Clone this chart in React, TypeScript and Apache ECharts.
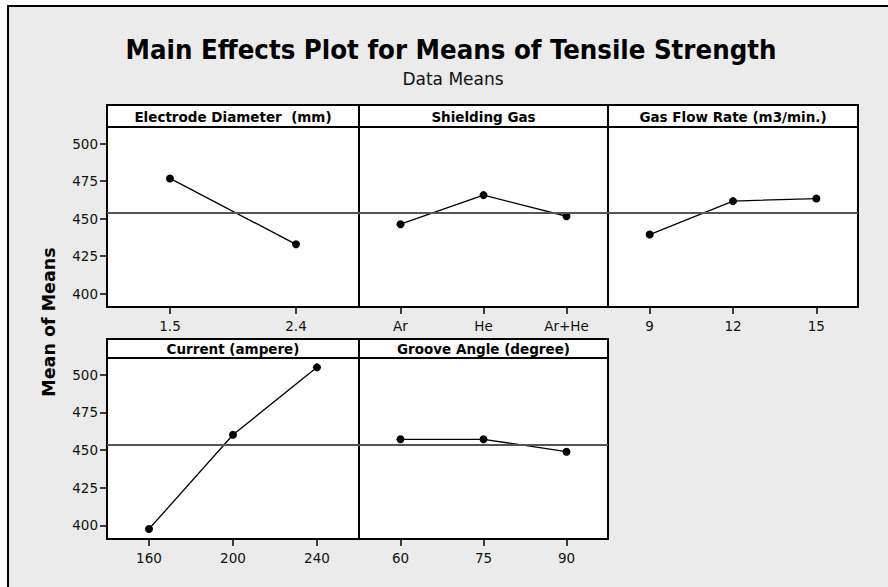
import React, { useEffect, useRef } from "react";
import * as echarts from "echarts";

const electrodeCats = ["1.5", "2.4"];
const electrodeMeans = [476.7, 432.8];
const gasCats = ["Ar", "He", "Ar+He"];
const gasMeans = [446.2, 465.6, 451.5];
const flowCats = ["9", "12", "15"];
const flowMeans = [439.3, 461.6, 463.3];
const currentCats = ["160", "200", "240"];
const currentMeans = [397.6, 460.1, 504.8];
const grooveCats = ["60", "75", "90"];
const grooveMeans = [457.1, 457.1, 448.9];
const grandMean = 453.8;
const yTicks = [400, 425, 450, 475, 500];
const panelTitles = [
  "Electrode Diameter  (mm)",
  "Shielding Gas",
  "Gas Flow Rate (m3/min.)",
  "Current (ampere)",
  "Groove Angle (degree)",
];

const COND = "'DejaVu Sans Condensed', 'DejaVu Sans', sans-serif";
const NORM = "'DejaVu Sans', sans-serif";

export default function App() {
  const ref = useRef<HTMLDivElement>(null);
  useEffect(() => {
    if (!ref.current) return;
    const chart = echarts.init(ref.current, null, { renderer: "svg" });
    const panels = [
      { left: 107, top: 127, width: 252, height: 180, hTop: 105, cats: electrodeCats, vals: electrodeMeans, yShow: true },
      { left: 359, top: 127, width: 249, height: 180, hTop: 105, cats: gasCats, vals: gasMeans, yShow: false },
      { left: 608, top: 127, width: 250, height: 180, hTop: 105, cats: flowCats, vals: flowMeans, yShow: false },
      { left: 107, top: 358, width: 252, height: 181, hTop: 339, cats: currentCats, vals: currentMeans, yShow: true },
      { left: 359, top: 358, width: 249, height: 181, hTop: 339, cats: grooveCats, vals: grooveMeans, yShow: false },
    ];
    const grid = panels.map((p) => ({
      left: p.left,
      top: p.top,
      width: p.width,
      height: p.height,
      show: true,
      backgroundColor: "#fff",
      borderColor: "#000",
      borderWidth: 2,
      containLabel: false,
    }));
    const xAxis = panels.map((p, i) => ({
      type: "category",
      gridIndex: i,
      data: p.cats,
      boundaryGap: true,
      axisLine: { show: false },
      axisTick: { show: true, alignWithLabel: true, length: 7, lineStyle: { color: "#000", width: 1.5 } },
      axisLabel: { interval: 0, margin: 12, fontSize: 13.5, color: "#111", fontFamily: NORM },
      splitLine: { show: false },
    }));
    const yAxis = panels.map((p, i) => ({
      type: "value",
      gridIndex: i,
      min: 391,
      max: 511,
      axisLine: { show: false },
      axisTick: { show: p.yShow, length: 7, customValues: yTicks, lineStyle: { color: "#000", width: 1.5 } },
      axisLabel: { show: p.yShow, margin: 9, fontSize: 13.5, color: "#111", fontFamily: NORM, customValues: yTicks },
      splitLine: { show: false },
    }));
    const series = panels.map((p, i) => ({
      type: "line",
      xAxisIndex: i,
      yAxisIndex: i,
      data: p.vals,
      symbol: "circle",
      symbolSize: 8,
      itemStyle: { color: "#000" },
      lineStyle: { color: "#000", width: 1.3 },
      markLine: {
        silent: true,
        symbol: "none",
        label: { show: false },
        lineStyle: { color: "#555", width: 2, type: "solid" },
        data: [{ yAxis: grandMean }],
      },
      z: 3,
    }));
    const graphic: any[] = [
      {
        type: "rect",
        shape: { x: 8, y: 6, width: 900, height: 600 },
        style: { fill: "#ebebeb", stroke: "#000", lineWidth: 2 },
        z: -10,
      },
      {
        type: "text",
        x: 451,
        y: 49,
        style: {
          text: "Main Effects Plot for Means of Tensile Strength",
          font: "bold 27.3px " + COND,
          fill: "#000",
          align: "center",
          verticalAlign: "middle",
        },
      },
      {
        type: "text",
        x: 453,
        y: 79,
        style: {
          text: "Data Means",
          font: "17px " + NORM,
          fill: "#111",
          align: "center",
          verticalAlign: "middle",
        },
      },
      {
        type: "text",
        x: 49,
        y: 322,
        rotation: Math.PI / 2,
        style: {
          text: "Mean of Means",
          font: "bold 17.5px " + NORM,
          fill: "#000",
          align: "center",
          verticalAlign: "middle",
        },
      },
    ];
    panels.forEach((p, i) => {
      graphic.push({
        type: "rect",
        shape: { x: p.left, y: p.hTop, width: p.width, height: p.top - p.hTop },
        style: { fill: "#fff", stroke: "#000", lineWidth: 2 },
      });
      graphic.push({
        type: "text",
        x: p.left + p.width / 2,
        y: (p.hTop + p.top) / 2 + 0.5,
        style: {
          text: panelTitles[i],
          font: "bold 13.5px " + NORM,
          fill: "#000",
          align: "center",
          verticalAlign: "middle",
        },
      });
    });
    chart.setOption({
      animation: false,
      backgroundColor: "#fff",
      grid,
      xAxis,
      yAxis,
      series,
      graphic,
    });
    return () => chart.dispose();
  }, []);
  return (
    <div
      ref={ref}
      style={{ position: "absolute", left: 0, top: 0, width: 888, height: 587 }}
    />
  );
}
